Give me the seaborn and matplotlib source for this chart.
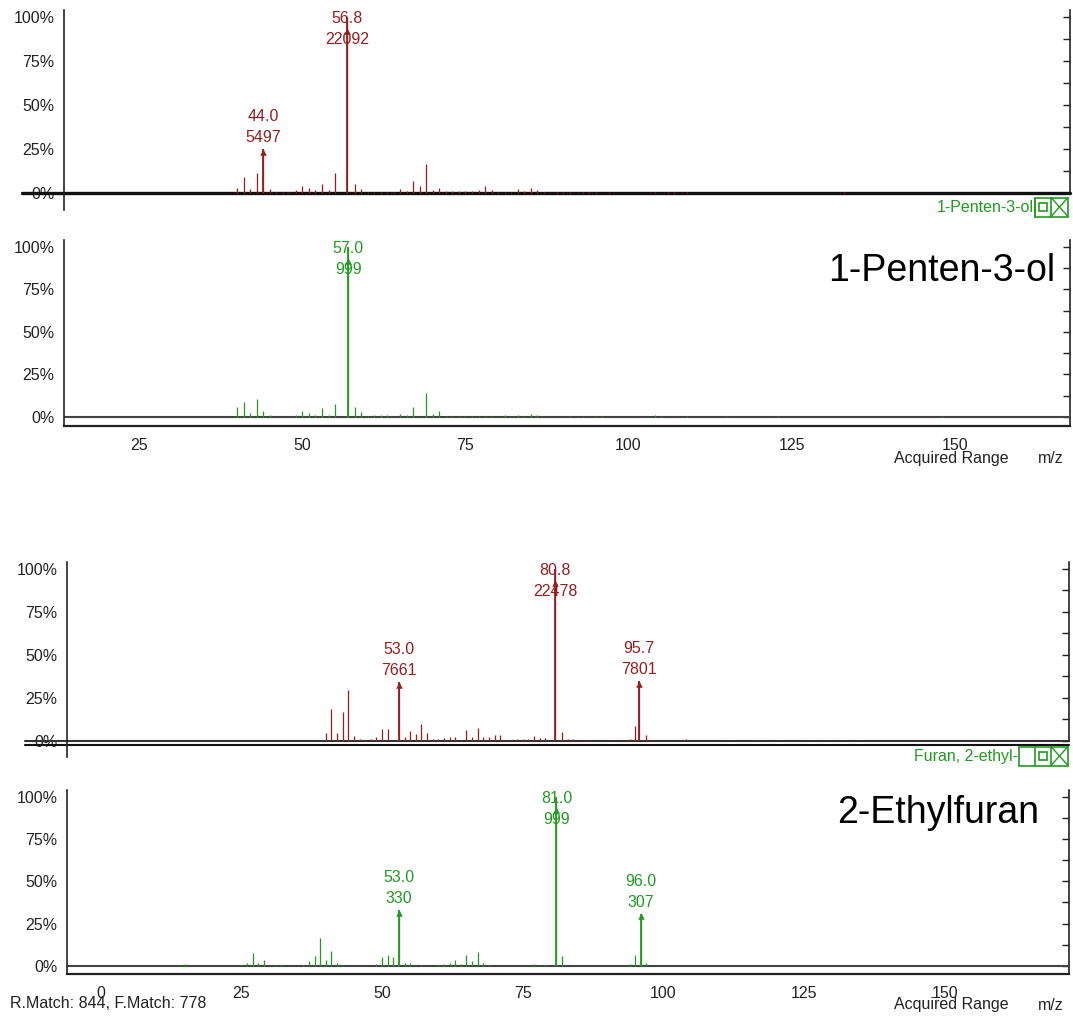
import numpy as np
import matplotlib
matplotlib.use("Agg")
import matplotlib.pyplot as plt
from matplotlib.patches import Rectangle
from matplotlib.lines import Line2D
import seaborn as sns

# ---- 1-Penten-3-ol: measured spectrum (relative %, base 22092)
pent_meas_mz = [40, 41, 42, 43, 44.0, 45, 46, 47, 48, 49, 50, 51, 52, 53, 54, 55,
                56.8, 58, 59, 60, 61, 62, 63, 64, 65, 66, 67, 68, 69, 70, 71, 72,
                73, 74, 75, 76, 77, 78, 79, 80, 81, 82, 83, 84, 85, 86, 87, 89,
                90, 91, 93, 94, 95, 97, 104, 106, 107, 109, 133]
pent_meas_int = [2.8, 8.9, 2.3, 11.4, 24.9, 2.3, 0.5, 0.5, 0.5, 1.5, 3.8, 3.0, 1.5,
                 5.3, 1.5, 11.4, 100, 5.3, 2.3, 0.8, 0.8, 0.8, 0.8, 0.5, 2.3, 1.1,
                 6.8, 3.8, 16.5, 1.9, 3.0, 1.0, 1.0, 1.0, 1.0, 1.0, 1.9, 3.8, 1.9,
                 0.6, 0.8, 0.6, 2.3, 1.1, 3.0, 1.9, 0.8, 0.5, 0.5, 0.8, 0.5, 0.5,
                 0.8, 0.8, 0.8, 0.5, 0.5, 0.5, 0.4]
pent_meas_peaks = [(44.0, 24.9, "5497"), (56.8, 100, "22092")]

# ---- 1-Penten-3-ol: library spectrum (base 999)
pent_lib_mz = [40, 41, 42, 43, 44, 45, 49, 50, 51, 52, 53, 54, 55, 57.0, 58, 59, 60,
               61, 62, 63, 65, 66, 67, 69, 70, 71, 72, 73, 74, 75, 76, 77, 78, 79,
               81, 83, 84, 85, 86, 91, 93, 95, 96, 104, 105, 109, 115, 123, 148]
pent_lib_int = [5.9, 9.0, 2.2, 10.4, 3.5, 1.2, 1.2, 3.5, 2.5, 1.2, 5.1, 1.2, 7.5,
                100, 5.9, 2.8, 0.3, 1.2, 1.2, 1.2, 2.0, 1.2, 5.9, 14.4, 2.0, 3.5,
                0.3, 0.3, 0.3, 0.3, 0.3, 0.3, 0.3, 0.3, 1.2, 1.2, 0.3, 2.0, 1.2,
                0.3, 0.3, 0.3, 0.3, 1.2, 0.3, 0.3, 0.3, 0.3, 0.3]
pent_lib_peaks = [(57.0, 100, "999")]

# ---- 2-Ethylfuran: measured spectrum (base 22478)
fur_meas_mz = [40, 41, 42, 43, 44, 45, 46, 47, 48, 49, 50, 51, 53.0, 54, 55, 56, 57,
               58, 59, 60, 61, 62, 63, 65, 66, 67, 68, 69, 70, 71, 72, 73, 74, 75,
               76, 77, 78, 79, 80.8, 82, 83, 84, 86, 87, 91, 93, 94, 95, 95.7, 97,
               98, 104, 112, 117, 121, 126, 129, 132, 135]
fur_meas_int = [4.7, 18.4, 4.7, 17.1, 29.9, 3.1, 1.0, 0.5, 1.0, 2.3, 7.2, 7.2, 34.1,
                2.3, 5.6, 3.9, 10.1, 4.7, 1.0, 1.0, 1.9, 2.3, 2.3, 6.2, 2.3, 7.8,
                2.3, 2.3, 3.7, 3.7, 0.5, 0.5, 1.0, 1.0, 1.0, 3.1, 1.6, 1.6, 100,
                5.4, 1.0, 1.0, 0.5, 0.5, 0.6, 0.6, 1.2, 8.9, 34.7, 3.5, 0.8, 1.0,
                0.4, 0.4, 0.4, 0.4, 0.5, 0.6, 0.4]
fur_meas_peaks = [(53.0, 34.1, "7661"), (80.8, 100, "22478"), (95.7, 34.7, "7801")]

# ---- 2-Ethylfuran: library spectrum (base 999)
fur_lib_mz = [14, 15, 25, 26, 27, 28, 29, 31, 32, 36, 37, 38, 39, 40, 41, 42, 43, 49,
              50, 51, 52, 53.0, 54, 55, 57, 60, 61, 62, 63, 64, 65, 66, 67, 68, 69,
              77, 78, 79, 81.0, 82, 94, 95, 96.0, 97]
fur_lib_int = [0.3, 1.0, 0.3, 1.8, 7.3, 1.8, 3.4, 0.3, 0.3, 0.3, 2.8, 5.7, 16.6, 3.4,
               8.9, 1.8, 0.3, 1.0, 4.9, 6.5, 4.9, 33.0, 1.8, 1.8, 0.3, 0.3, 1.0, 1.8,
               3.4, 1.0, 6.5, 2.8, 8.1, 1.8, 0.3, 1.0, 0.3, 0.3, 100, 5.7, 1.2, 6.5,
               30.7, 1.8]
fur_lib_peaks = [(53.0, 33.0, "330"), (81.0, 100, "999"), (96.0, 30.7, "307")]

y_ticks = [0, 25, 50, 75, 100]
y_labels = ["0%", "25%", "50%", "75%", "100%"]

W, H = 1073, 1017
RED = "#961e1e"
GREEN = "#229a22"
INK = "#222222"

sns.set_style("white")
plt.rcParams["font.family"] = ["Liberation Sans", "DejaVu Sans"]
plt.rcParams["font.size"] = 11.5

fig = plt.figure(figsize=(W / 100, H / 100), dpi=100)


def px_axes(left, top, right, bottom):
    return fig.add_axes([left / W, 1 - bottom / H, (right - left) / W, (bottom - top) / H])


def fig_text(x, y, s, **kw):
    fig.text(x / W, 1 - y / H, s, **kw)


def fig_line(xs, ys, **kw):
    fig.add_artist(Line2D([x / W for x in xs], [1 - y / H for y in ys],
                          transform=fig.transFigure, **kw))


def draw_spectrum(ax, mz, inten, peaks, color):
    ax.vlines(mz, 0, inten, color=color, lw=0.9, zorder=3)
    tips_x, tips_y = [], []
    for m, h, count in peaks:
        ax.vlines([m], 0, [h], color=color, lw=1.3, zorder=3)
        label = f"{m:.1f}\n{count}"
        if h > 80:
            # base peak: label drawn inside the frame, over the stick
            tips_y.append(92)
            ax.annotate(label, xy=(m, 100), xytext=(0, 4.5), textcoords="offset points",
                        ha="center", va="top", color=color, fontsize=11.5, linespacing=1.5,
                        zorder=5)
        else:
            tips_y.append(h - 1.5)
            ax.annotate(label, xy=(m, h), xytext=(0, 3), textcoords="offset points",
                        ha="center", va="bottom", color=color, fontsize=11.5, linespacing=1.5,
                        zorder=5)
        tips_x.append(m)
    sns.scatterplot(x=tips_x, y=tips_y, marker="^", s=22, color=color, linewidth=0,
                    ax=ax, zorder=4, legend=False)


def style_y(ax, ylim, top_panel):
    ax.set_yticks(y_ticks)
    ax.set_yticklabels(y_labels)
    ax.set_yticks(np.arange(0, 101, 5), minor=True)
    ax.set_ylim(*ylim)
    ax.tick_params(axis="y", which="major", direction="out", length=6, width=1,
                   color=INK, labelcolor=INK, labelsize=11.5, pad=1)
    ax.tick_params(axis="y", which="minor", direction="out", length=4, width=1, color=INK)
    ax.spines["top"].set_visible(False)
    ax.spines["right"].set_visible(False)
    ax.spines["left"].set_color(INK)
    ax.spines["left"].set_linewidth(1.2)
    sec = ax.secondary_yaxis("right")
    sec.set_yticks(np.arange(0, 101, 12.5))
    sec.tick_params(direction="in", length=5, width=1, color=INK, labelright=False)
    sec.spines["right"].set_color(INK)
    sec.spines["right"].set_linewidth(1.2)
    if top_panel:
        sec.spines["right"].set_bounds(0, ylim[1])


def style_x(ax, xlim, show_axis, first_tick):
    if show_axis:
        ax.set_xticks([t for t in range(0, 151, 25) if t >= xlim[0]])
        ax.set_xticks(np.arange(first_tick, xlim[1], 5), minor=True)
        ax.tick_params(axis="x", which="major", direction="out", length=9, width=1,
                       color=INK, labelcolor=INK, labelsize=11.5, pad=0)
        ax.tick_params(axis="x", which="minor", direction="out", length=5, width=1, color=INK)
        ax.spines["bottom"].set_color(INK)
        ax.spines["bottom"].set_linewidth(1.6)
        ax.axhline(0, color="#444444", lw=1.5, zorder=2)
    else:
        ax.set_xticks([])
        ax.spines["bottom"].set_visible(False)
    ax.set_xlim(*xlim)


def legend_box(text_right, yc, name, frame_left):
    fig_text(text_right, yc, name, ha="right", va="center", color=GREEN, fontsize=11.5)
    y0, y1 = yc - 9.5, yc + 9.5
    xa, xm, x1 = 1035, 1051, 1068
    fig.add_artist(Rectangle((frame_left / W, 1 - y1 / H), (x1 - frame_left) / W,
                             (y1 - y0) / H, transform=fig.transFigure, fill=False,
                             ec=GREEN, lw=1.2))
    fig_line([xa, xa], [y0, y1], color=GREEN, lw=1.2)
    fig_line([xm, xm], [y0, y1], color=GREEN, lw=1.2)
    fig.add_artist(Rectangle(((xa + 4) / W, 1 - (yc + 4) / H), 8 / W, 8 / H,
                             transform=fig.transFigure, fill=False, ec=GREEN, lw=1.2))
    fig_line([xm, x1], [y0, y1], color=GREEN, lw=1)
    fig_line([xm, x1], [y1, y0], color=GREEN, lw=1)


# ---------------- 1-Penten-3-ol
xlim1 = (13.5, 167.7)
ax = px_axes(64.4, 10, 1070, 210)
style_y(ax, (-9.7, 104), True)
style_x(ax, xlim1, False, 15)
ax.axhline(0, xmin=-42 / 1005, xmax=1, color="#111111", lw=2.4, clip_on=False, zorder=2)
draw_spectrum(ax, pent_meas_mz, pent_meas_int, pent_meas_peaks, RED)

ax = px_axes(64.4, 240, 1070, 426)
style_y(ax, (-5.3, 104.1), False)
style_x(ax, xlim1, True, 15)
draw_spectrum(ax, pent_lib_mz, pent_lib_int, pent_lib_peaks, GREEN)
ax.text(0.985, 0.835, "1-Penten-3-ol", transform=ax.transAxes, ha="right", va="center",
        fontsize=27, color="black")

legend_box(1034, 207, "1-Penten-3-ol", 1035)
fig_text(951, 458, "Acquired Range", ha="center", va="center", color=INK, fontsize=11.5)
fig_text(1051, 458, "m/z", ha="center", va="center", color=INK, fontsize=11.5)

# ---------------- 2-Ethylfuran
xlim2 = (-6.0, 172.1)
ax = px_axes(67, 562, 1069, 757)
style_y(ax, (-9.3, 104), True)
style_x(ax, xlim2, False, -5)
ax.axhline(0, xmin=-42 / 1002, xmax=1, color="#333333", lw=1.5, clip_on=False, zorder=2)
ax.axhline(-2.4, xmin=-42 / 1002, xmax=1, color="#111111", lw=1.5, clip_on=False, zorder=2)
draw_spectrum(ax, fur_meas_mz, fur_meas_int, fur_meas_peaks, RED)

ax = px_axes(67, 790, 1069, 974)
style_y(ax, (-4.9, 104.1), False)
style_x(ax, xlim2, True, -5)
draw_spectrum(ax, fur_lib_mz, fur_lib_int, fur_lib_peaks, GREEN)
ax.text(0.97, 0.875, "2-Ethylfuran", transform=ax.transAxes, ha="right", va="center",
        fontsize=27, color="black")

legend_box(1018, 756, "Furan, 2-ethyl-", 1019)

fig_text(951, 1005, "Acquired Range", ha="center", va="center", color=INK, fontsize=11.5)
fig_text(1051, 1005, "m/z", ha="center", va="center", color=INK, fontsize=11.5)
fig_text(10, 1003, "R.Match: 844, F.Match: 778", ha="left", va="center", color=INK,
         fontsize=11.5)

fig.savefig("out.png", dpi=100)
